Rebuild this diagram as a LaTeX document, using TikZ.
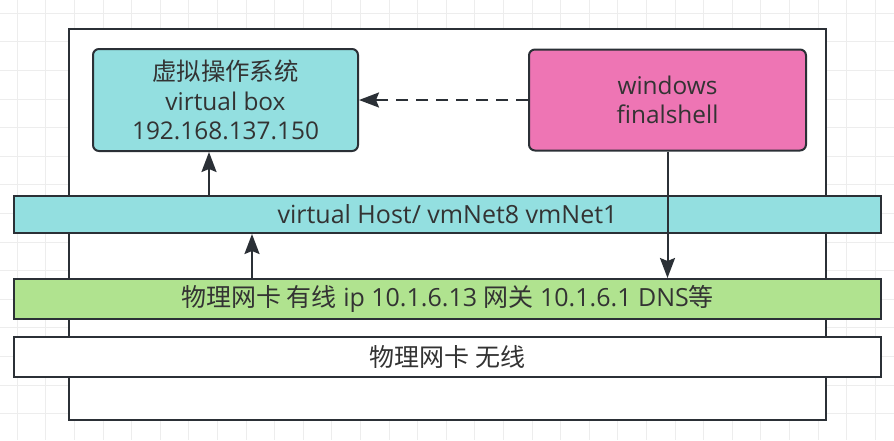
\documentclass[tikz,border=0pt]{standalone}
\usepackage{fontspec}
\setmainfont{Open Sans}
\newfontfamily\cjk{Noto Sans CJK SC}
\usetikzlibrary{arrows.meta}
\definecolor{boxcyan}{HTML}{93DFE0}
\definecolor{boxpink}{HTML}{EE75B4}
\definecolor{barlime}{HTML}{B0E38F}
\definecolor{edgedark}{HTML}{2B3036}
\definecolor{gridgray}{HTML}{EDEDED}
\definecolor{textgray}{HTML}{333333}

\begin{document}
\begin{tikzpicture}[x=1pt, y=-1pt, >={Stealth[length=20pt,width=15pt,inset=3pt]},
        frame/.style={draw=edgedark, line width=2pt, inner sep=0pt},
        card/.style={frame, rounded corners=6pt, align=center, text=textgray, font=\fontsize{24.4}{29.5}\selectfont},
        bar/.style={frame, minimum width=867pt, text=textgray, font=\fontsize{25}{28}\selectfont},
        link/.style={draw=edgedark, line width=2pt}]
        % 背景网格
        \useasboundingbox[fill=white] (0,0) rectangle (894,440);
        \foreach \i in {0,...,30} \draw[gridgray, line width=1pt] ({17.3+28.6*\i},0) -- ++(0,440);
        \foreach \j in {0,...,15} \draw[gridgray, line width=1pt] (0,{13.3+28.6*\j}) -- ++(894,0);
        % 主机
        \node[frame, fill=white, minimum width=757pt, minimum height=391pt] (hostpc) at (447.5,224.5) {};
        \node[card, fill=boxcyan, minimum width=265pt, minimum height=102pt] (vbox) at (225.5,100) {{\cjk 虚拟操作系统}\\virtual box\\192.168.137.150};
        \node[card, fill=boxpink, minimum width=277pt, minimum height=101pt] (win) at (667.5,100) {windows\\finalshell};
        % 网卡
        \node[bar, fill=boxcyan, minimum height=37pt] (vhost) at (447.5,214.5) {virtual Host/ vmNet8 vmNet1};
        \node[bar, fill=barlime, minimum height=40pt] (wired) at (447.5,299) {{\cjk 物理网卡 有线} ip 10.1.6.13 {\cjk 网关} 10.1.6.1 DNS{\cjk 等}};
        \node[bar, fill=white, minimum height=40pt] (wifi) at (447.5,357) {\cjk 物理网卡 无线};
        % 连线
        \draw[link, ->] (209,0 |- vhost.north) -- (209,0 |- vbox.south);
        \draw[link, ->] (252,0 |- wired.north) -- (252,0 |- vhost.south);
        \draw[link, ->] (win.south) -- (win.south |- wired.north);
        \draw[link, ->, dash pattern=on 12pt off 8pt] (win.west) -- (vbox.east);
    \end{tikzpicture}
\end{document}
